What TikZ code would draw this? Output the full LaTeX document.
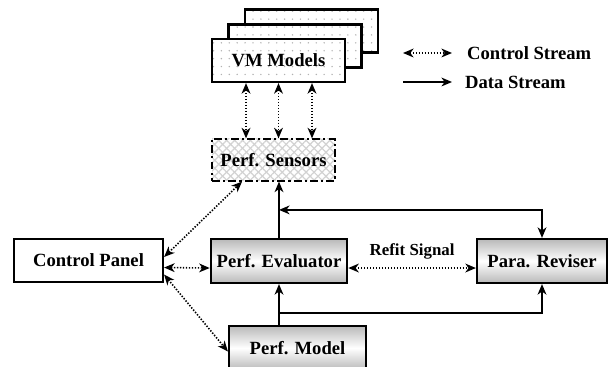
\documentclass[tikz,border=0pt]{standalone}
\usepackage{fontspec}
\setmainfont{Liberation Serif}
\usetikzlibrary{positioning}
\usetikzlibrary{arrows.meta}
\usetikzlibrary{patterns,patterns.meta}
\tikzset{>={Stealth[length=6pt,width=5pt,inset=1.8pt]},
box/.style={ % Sets the properties for each block
draw,
line width=1.25pt,
minimum height=0.88cm,
font=\fontsize{10.6}{12}\selectfont\bfseries},
shadebox/.style={ % Blocks with grey shading
box,
top color=gray!55, bottom color=gray!55, middle color=white},
vmbox/.style={ % Stacked model sheets
box,
minimum width=2.66cm, minimum height=0.86cm,
preaction={fill=white},
pattern={Dots[distance=4.5pt,radius=0.45pt]}, pattern color=gray!60},
sensorbox/.style={ % Hatched sensor block
box,
minimum width=2.46cm, minimum height=0.84cm,
dash pattern=on 4.5pt off 1.8pt on 1.2pt off 1.8pt,
preaction={fill=white},
preaction={pattern={Lines[angle=45,distance=3.2pt,line width=0.7pt]}, pattern color=gray!35},
pattern={Lines[angle=-45,distance=3.2pt,line width=0.7pt]}, pattern color=gray!35},
txt/.style={font=\fontsize{10.6}{12}\selectfont\bfseries},
data/.style={ % Data stream
draw,
line width=0.9pt,
->},
ctrl/.style={ % Control stream
data,
dash pattern=on 0.8pt off 0.9pt,
<->}}
\begin{document}
\begin{tikzpicture}[x=0.02cm,y=-0.02cm]
\useasboundingbox (0,0) rectangle (608,367);
\node[vmbox] (vm3) at (311.5,31) {};
\node[vmbox] (vm2) at (295,46) {};
\node[vmbox] (vm) at (278.5,60.5) {VM Models};
\node[sensorbox] (sensors) at (273.5,160) {Perf. Sensors};
\node[box, minimum width=2.98cm, minimum height=0.86cm] (panel) at (88.5,260.5) {Control Panel};
\node[shadebox, minimum width=2.64cm] (eval) at (279,261) {Perf. Evaluator};
\node[shadebox, minimum width=2.74cm] (model) at (297.5,348) {Perf. Model};
\node[shadebox, minimum width=2.6cm] (rev) at (542,261) {Para. Reviser};
% legend
\coordinate (lc) at (403,53);
\coordinate (ld) at (403,82);
\node[txt, anchor=west] (ctrltext) at (461,53) {Control Stream};
\node[txt, anchor=west] (datatext) at (459,82) {Data Stream};
\draw[ctrl] (lc) -- ([xshift=-0.18cm]ctrltext.west);
\draw[data] (ld) -- ([xshift=-0.14cm]datatext.west);
% control streams
\foreach \dx [count=\i] in {-0.65,0,0.67} {
\coordinate (t\i) at ([xshift=\dx cm]vm.south);
\draw[ctrl] (t\i) -- (t\i |- sensors.north);
}
\draw[ctrl] ([yshift=2pt]panel.east) -- ([xshift=-0.63cm]sensors.south);
\draw[ctrl] ([yshift=-4pt]panel.east) -- ([yshift=-4pt]eval.west);
\draw[ctrl] ([yshift=-8pt]panel.east) -- ([yshift=-2pt]model.west);
\draw[ctrl] ([yshift=-4pt]eval.east) -- ([yshift=-4pt]rev.west)
  node[midway, yshift=0.34cm, txt, font=\fontsize{9.6}{11}\selectfont\bfseries] (refit) {Refit Signal};
% data streams
\draw[data] (eval.north) -- (eval.north |- sensors.south);
\draw[data, <->] ([yshift=0.56cm]eval.north) -| (rev.north);
\draw[data] (eval.south |- model.north) -- (eval.south);
\draw[data] ([yshift=-0.58cm]eval.south) -| (rev.south);
\end{tikzpicture}
\end{document}
